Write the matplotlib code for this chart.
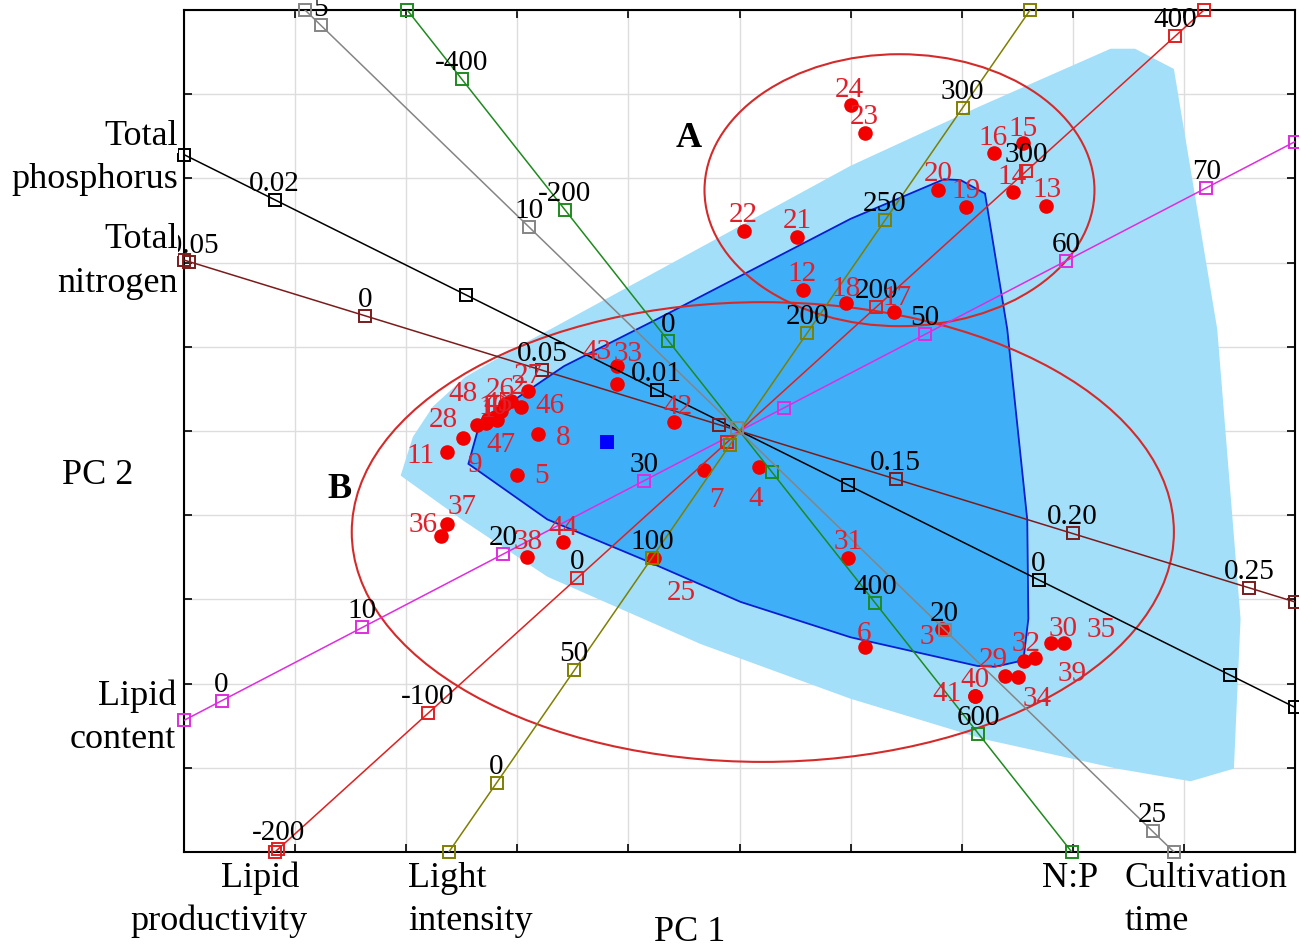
import matplotlib
matplotlib.use("Agg")
import matplotlib.pyplot as plt
from matplotlib.patches import Ellipse, Polygon

plt.rcParams["font.family"] = ["Liberation Serif", "DejaVu Serif"]

W, H = 1299, 949

# sample scores on PC 1 / PC 2 (plot grid units)
sample_ids = list(range(1, 49))
pc1 = [-2.20, -2.06, 1.82, 0.18, -2.00, 1.13, -0.32, -1.81, -2.28, -2.26,
       -2.63, 0.57, 2.76, 2.46, 2.55, 2.29, 1.39, 0.96, 2.04, 1.79,
       0.52, 0.04, 1.13, 1.00, -0.77, -2.11, -1.90, -2.49, 2.39, 2.80,
       0.98, 2.56, -1.10, 2.51, 2.92, -2.69, -2.63, -1.91, 2.66, 2.12,
       2.12, -0.59, -1.10, -1.59, -2.15, -1.97, -2.18, -2.36]
pc2 = [0.17, 0.36, -2.35, -0.43, -0.52, -2.57, -0.46, -0.04, 0.10, 0.14,
       -0.25, 1.68, 2.67, 2.84, 3.42, 3.30, 1.41, 1.52, 2.66, 2.86,
       2.30, 2.38, 3.54, 3.87, -1.51, 0.32, 0.48, -0.08, -2.91, -2.52,
       -1.51, -2.73, 0.77, -2.92, -2.52, -1.25, -1.11, -1.50, -2.70, -3.15,
       -3.15, 0.11, 0.56, -1.32, 0.24, 0.29, 0.13, 0.07]

# where each sample number sits relative to its dot (pixels)
label_dx = [-7, 7, -15, -4, 24, -1, 12, 25, -11, 5,
            -27, -1, 1, -1, 0, -1, 3, 0, 0, 0,
            0, -1, -1, -1, 27, -5, 0, -20, -12, 12,
            0, 2, 11, 19, 37, -18, 15, 1, 37, 0,
            -28, 4, -20, 0, -3, 29, 4, -14]
label_dy = [10, 17, -5, -29, 2, 16, -27, -1, -39, 15,
            -1, 19, 19, 18, 17, 18, 17, 17, 19, 19,
            19, 19, 19, 18, -32, 17, 18, 21, 19, 17,
            19, 20, 15, -19, 16, 14, 20, 18, -13, 19,
            5, 18, 35, 17, 10, 4, -22, 34]

# centroid of all samples
centroid = (-1.19, -0.13)

# hull of all samples (light) and of the inner group (dark)
outer_x = [-3.05, -2.94, -2.76, -2.47, -1.97, -1.70, 1.00, 2.17, 3.34, 3.56,
           3.91, 4.30, 4.51, 4.45, 4.06, 3.40, 2.20, 1.00, -0.35, -1.73, -2.48]
outer_y = [-0.53, -0.07, 0.29, 0.64, 1.02, 1.21, 3.15, 3.86, 4.54, 4.54,
           4.30, 1.21, -2.23, -4.01, -4.16, -4.01, -3.66, -3.18, -2.53, -1.73, -1.07]
inner_x = [-2.44, -2.36, -2.06, -1.58, -0.74, 1.00, 1.84, 1.99, 2.21, 2.41,
           2.59, 2.60, 2.56, 2.50, 2.30, 2.14, 1.00, 0.01, -0.86, -1.73]
inner_y = [-0.39, -0.01, 0.34, 0.77, 1.33, 2.52, 2.99, 2.98, 2.82, 1.21,
           -1.05, -2.23, -2.67, -2.74, -2.80, -2.79, -2.45, -2.03, -1.53, -1.05]

# cluster ellipses
ell_names = ["A", "B"]
ell_cx = [1.44, 0.21]
ell_cy = [2.86, -1.20]
ell_w = [3.51, 7.40]
ell_h = [3.23, 5.46]

# calibrated variable axes
var_names = ["Total phosphorus", "Total nitrogen", "Lipid content",
             "Lipid productivity", "Light intensity", "N:P", "Cultivation time"]
var_colors = ["black", "#7a1c1c", "#e02ce0", "#e02020", "#7f7f00", "#1f8a1f", "#858585"]
var_center = [0.00783, 0.1058, 36.81, 108.4, 156.4, 137.7, 15.07]
var_dx = [-343.8, 31.82, 0.12664, 0.013455, 0.01398, 0.004653, 0.3744]
var_dy = [225.7, -12.92, 0.08704, 0.01609, 0.02672, -0.007779, -0.4787]
var_ticks = [
    [-0.005, 0, 0.005, 0.01, 0.015, 0.02],
    [-0.05, 0, 0.05, 0.10, 0.15, 0.20, 0.25],
    [0, 10, 20, 30, 40, 50, 60, 70],
    [-200, -100, 0, 100, 200, 300, 400],
    [0, 50, 100, 150, 200, 250, 300],
    [-400, -200, 0, 200, 400, 600],
    [5, 10, 15, 20, 25],
]
var_ticklabels = [
    ["", "0", "", "0.01", "", "0.02"],
    ["-0.05", "0", "0.05", "", "0.15", "0.20", "0.25"],
    ["0", "10", "20", "30", "", "50", "60", "70"],
    ["-200", "-100", "0", "", "200", "300", "400"],
    ["0", "50", "100", "", "200", "250", "300"],
    ["-400", "-200", "0", "", "400", "600"],
    ["5", "10", "", "20", "25"],
]

LIM = 5

fig = plt.figure(figsize=(W / 100, H / 100), dpi=100)
ax = fig.add_axes([184 / W, 97 / H, 1111 / W, 842 / H])
ax.set_xlim(-LIM, LIM)
ax.set_ylim(-LIM, LIM)
ax.set_xticks(range(-LIM, LIM + 1))
ax.set_yticks(range(-LIM, LIM + 1))
ax.tick_params(direction="in", length=6, width=1.2, top=True, right=True,
               labelbottom=False, labelleft=False)
ax.grid(True, color="#dddddd", lw=1.0)
ax.set_axisbelow(True)
for s in ax.spines.values():
    s.set_linewidth(1.5)

# hulls
ax.add_patch(Polygon(list(zip(outer_x, outer_y)), closed=True,
                     facecolor="#a3dff9", edgecolor="none", zorder=1))
ax.add_patch(Polygon(list(zip(inner_x, inner_y)), closed=True,
                     facecolor="#3fb0f7", edgecolor="#0a1ed0", lw=1.3, zorder=1.5))

# ellipses
for cx, cy, w, h in zip(ell_cx, ell_cy, ell_w, ell_h):
    ax.add_patch(Ellipse((cx, cy), w, h, facecolor="none",
                         edgecolor="#d42a2a", lw=1.5, zorder=2))

# samples
ax.plot(pc1, pc2, "o", color="#f20000", ms=10.5, mew=0, zorder=3)
ax.plot(*centroid, "s", color="#0000ff", ms=10, mew=0, zorder=3)
for sid, x, y, dx, dy in zip(sample_ids, pc1, pc2, label_dx, label_dy):
    ax.annotate(str(sid), (x, y), xytext=(dx, dy - 10), textcoords="offset pixels",
                ha="center", va="baseline", fontsize=21, color="#e0202a", zorder=6)

# variable axes
for name, col, v0, dx, dy, ticks, tl in zip(var_names, var_colors, var_center,
                                             var_dx, var_dy, var_ticks, var_ticklabels):
    umax = min(LIM / abs(dx), LIM / abs(dy))
    ax.plot([-umax * dx, umax * dx], [-umax * dy, umax * dy], "-", color=col,
            lw=1.1, zorder=4)
    ax.plot([-umax * dx, umax * dx], [-umax * dy, umax * dy], "s", mfc="none",
            mec=col, ms=9, mew=1.4, zorder=4, clip_on=False)
    tx = [(v - v0) * dx for v in ticks]
    ty = [(v - v0) * dy for v in ticks]
    ax.plot(tx, ty, "s", mfc="none", mec=col, ms=9, mew=1.4, zorder=4, clip_on=False)
    for x, y, lab in zip(tx, ty, tl):
        if lab:
            ax.annotate(lab, (x, y), xytext=(0, 9), textcoords="offset pixels",
                        ha="center", va="baseline", fontsize=21, color="black",
                        zorder=5, annotation_clip=False)

for nm, cx, cy in [("A", 689, 147), ("B", 340, 498)]:
    fig.text(cx / W, 1 - cy / H, nm, ha="center", va="baseline",
             fontsize=26, fontweight="bold")


def flabel(txt, x, y, ha):
    fig.text(x / W, 1 - y / H, txt, ha=ha, va="baseline", fontsize=26, zorder=10,
             bbox=dict(facecolor="white", edgecolor="none", pad=0))


flabel("Total", 178, 145, "right")
flabel("phosphorus", 178, 188, "right")
flabel("Total", 178, 248, "right")
flabel("nitrogen", 178, 292, "right")
flabel("PC 2", 98, 484, "center")
flabel("Lipid", 176, 705, "right")
flabel("content", 176, 748, "right")
flabel("Lipid", 260, 887, "center")
flabel("productivity", 219, 930, "center")
flabel("Light", 408, 887, "left")
flabel("intensity", 408, 930, "left")
flabel("N:P", 1070, 887, "center")
flabel("Cultivation", 1125, 887, "left")
flabel("time", 1125, 930, "left")
flabel("PC 1", 690, 941, "center")

fig.savefig("out.png", dpi=100)
